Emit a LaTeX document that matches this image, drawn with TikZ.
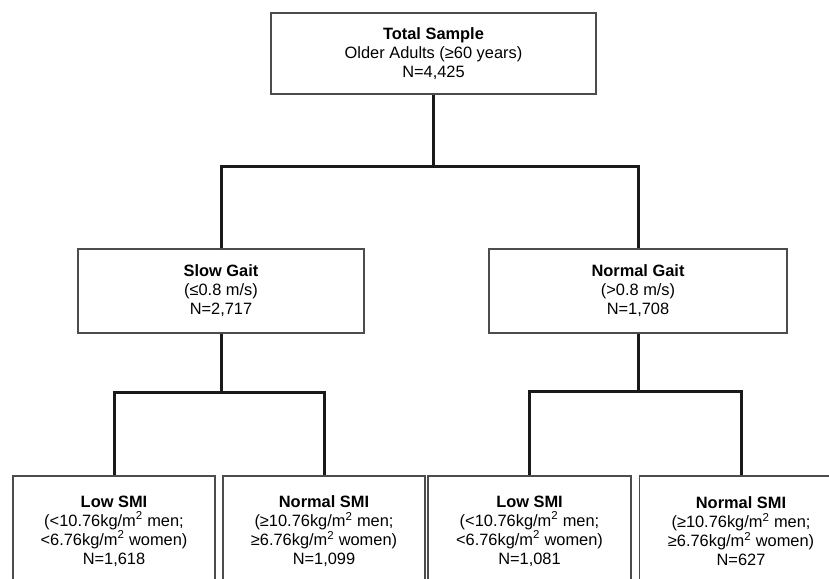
\documentclass[tikz,border=0pt]{standalone}
\usepackage{fontspec}
\setmainfont{Liberation Sans}
\tikzset{
	box/.style={draw=black!70, line width=1.1pt, align=center, inner sep=0pt,
		font=\fontsize{16.4}{19}\selectfont},
	link/.style={line width=3pt, color=black!90},
}
\def\kgm{kg/m\textsuperscript{2}}

\begin{document}
\begin{tikzpicture}[x=1pt, y=-1pt]
			%%%%% START %%%%%
			
			\useasboundingbox (0, 0) rectangle (829, 578);
			\clip (0, 0) rectangle (829, 578);
			
			\node[box, minimum width=325, minimum height=81] (total) at (433.5, 53.5) {\textbf{Total Sample}\\Older Adults (≥60 years)\\N=4,425};
			
			\node[box, minimum width=286, minimum height=84] (slow) at (221, 291) {\textbf{Slow Gait}\\(≤0.8 m/s)\\N=2,717};
			\node[box, minimum width=298, minimum height=84] (normgait) at (638, 291) {\textbf{Normal Gait}\\(>0.8 m/s)\\N=1,708};
			
			\node[box, minimum width=202, minimum height=110] (lowL) at (114, 531) {\textbf{Low SMI}\\(<10.76\kgm{} men;\\<6.76\kgm{} women)\\N=1,618};
			\node[box, minimum width=202, minimum height=110] (normL) at (324, 531) {\textbf{Normal SMI}\\(≥10.76\kgm{} men;\\≥6.76\kgm{} women)\\N=1,099};
			\node[box, minimum width=203, minimum height=110] (lowR) at (529.5, 531) {\textbf{Low SMI}\\(<10.76\kgm{} men;\\<6.76\kgm{} women)\\N=1,081};
			\node[box, minimum width=203, minimum height=110] (normR) at (741, 531) {\textbf{Normal SMI}\\(≥10.76\kgm{} men;\\≥6.76\kgm{} women)\\N=627};
			
			\coordinate (s1) at (433.5, 166);
			\coordinate (s2) at (221, 392);
			\coordinate (s3) at (638, 391);
			
			\draw[link] (total.south) -- (s1);
			\draw[link] (slow.north) |- (s1) -| (normgait.north);
			
			\draw[link] (slow.south) -- (s2);
			\draw[link] (lowL.north) |- (s2) -| (normL.north);
			
			\draw[link] (normgait.south) -- (s3);
			\draw[link] (lowR.north) |- (s3) -| (normR.north);
			
			%%%%% END %%%%%
\end{tikzpicture}
\end{document}
